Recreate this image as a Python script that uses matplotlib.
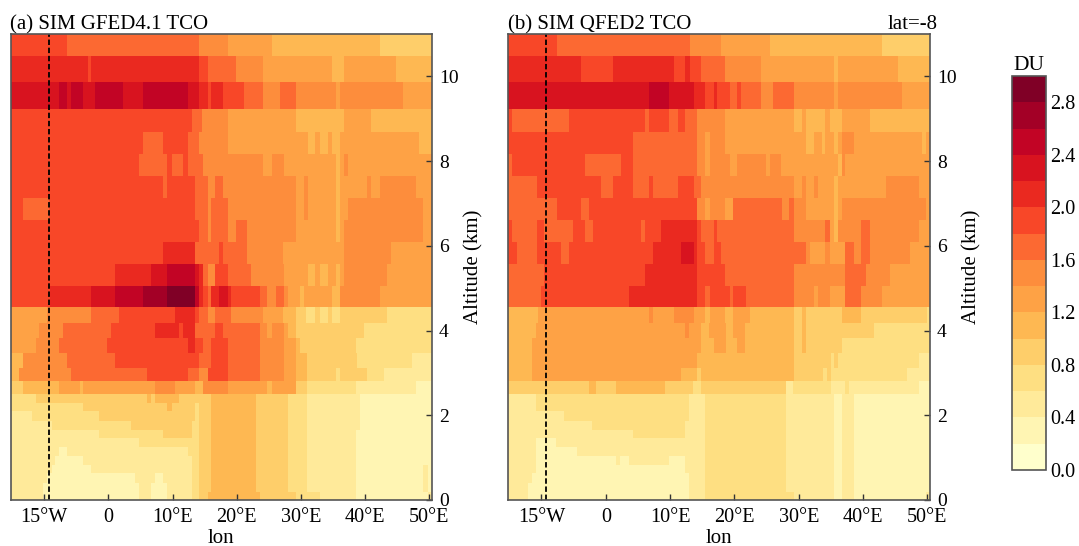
import numpy as np
from matplotlib import pyplot as plt
from matplotlib.colors import BoundaryNorm

plt.rcParams["font.family"] = "Liberation Serif"

# altitude edges of the model layers, km, top to bottom
alt_edges = [11.0, 10.48, 9.87, 9.24, 8.68, 8.16, 7.64, 7.12, 6.6, 6.08, 5.56, 5.04, 4.56, 4.18, 3.82, 3.47,
             3.11, 2.80, 2.51, 2.29, 2.09, 1.87, 1.65, 1.47, 1.25, 1.05, 0.83, 0.64, 0.41, 0.20, 0.0]

# every row: (lon where the run ends, DU in the run), same order as alt_edges
gfed_rows = [
    [(-6.5, 1.9), (14.1, 1.7), (18.5, 1.5), (25.4, 1.3), (42.2, 1.1), (50.4, 0.9)],
    [(-3.3, 2.1), (-2.8, 1.9), (14.1, 2.1), (15.4, 1.9), (19.8, 1.7), (24.1, 1.5), (34.7, 1.3), (36.6, 1.1), (44.7, 1.3), (50.4, 1.1)],
    [(-7.7, 2.3), (-6.5, 2.5), (-5.9, 2.3), (-4.0, 2.5), (-2.1, 2.3), (2.3, 2.5), (5.4, 2.3), (12.3, 2.5), (14.1, 2.3), (15.4, 2.1), (16.0, 1.9), (17.8, 2.1), (21.0, 1.9), (24.1, 1.7), (26.7, 1.5), (29.1, 1.7), (35.4, 1.5), (36.0, 1.3), (45.9, 1.5), (50.4, 1.3)],
    [(12.9, 1.9), (14.6, 1.7), (18.5, 1.5), (29.1, 1.3), (36.6, 1.1), (40.9, 1.3), (50.4, 1.1)],
    [(5.4, 1.9), (8.5, 1.7), (12.3, 1.9), (14.1, 1.7), (18.5, 1.5), (31.0, 1.3), (32.2, 1.1), (32.9, 1.3), (34.2, 1.1), (34.7, 1.3), (36.0, 1.1), (48.4, 1.3), (50.4, 1.1)],
    [(4.7, 1.9), (9.0, 1.7), (9.8, 1.9), (11.6, 1.7), (12.3, 1.9), (14.7, 1.7), (24.1, 1.5), (25.4, 1.3), (27.3, 1.5), (35.4, 1.3), (36.0, 1.1), (36.6, 1.3), (37.2, 1.5), (50.4, 1.3)],
    [(8.5, 1.9), (9.0, 1.7), (13.5, 1.9), (15.4, 1.7), (16.6, 1.5), (17.8, 1.7), (29.1, 1.5), (30.4, 1.3), (31.0, 1.5), (35.4, 1.3), (36.0, 1.1), (40.3, 1.3), (40.9, 1.5), (42.2, 1.3), (47.8, 1.5), (50.4, 1.3)],
    [(-13.3, 1.9), (-9.3, 1.7), (13.5, 1.9), (15.4, 1.7), (16.0, 1.5), (18.5, 1.7), (29.1, 1.5), (30.4, 1.3), (31.0, 1.5), (35.4, 1.3), (36.0, 1.1), (37.2, 1.3), (49.0, 1.5), (50.4, 1.3)],
    [(14.1, 1.9), (15.4, 1.7), (16.0, 1.5), (18.5, 1.7), (19.8, 1.5), (21.6, 1.7), (29.1, 1.5), (35.4, 1.3), (36.0, 1.1), (36.6, 1.3), (49.0, 1.5), (50.4, 1.3)],
    [(8.5, 1.9), (13.5, 2.1), (17.2, 1.7), (17.8, 1.9), (21.6, 1.7), (27.2, 1.5), (36.6, 1.3), (44.0, 1.5), (50.4, 1.3)],
    [(1.0, 1.9), (6.6, 2.1), (9.1, 2.3), (13.5, 2.5), (14.1, 2.3), (14.7, 2.1), (15.4, 1.7), (16.6, 1.5), (18.5, 1.9), (22.2, 1.7), (27.3, 1.5), (31.0, 1.3), (32.2, 1.1), (32.9, 1.3), (34.2, 1.1), (35.4, 1.3), (36.0, 1.1), (36.6, 1.3), (43.4, 1.5), (50.4, 1.3)],
    [(-9.1, 1.9), (-2.8, 2.1), (1.0, 2.3), (5.4, 2.5), (9.1, 2.7), (13.5, 2.9), (14.1, 2.5), (14.7, 2.1), (15.4, 1.9), (16.0, 1.7), (17.2, 2.1), (18.5, 2.3), (19.1, 2.1), (23.5, 1.9), (24.7, 1.7), (26.0, 1.5), (27.3, 1.7), (27.9, 1.5), (29.8, 1.3), (30.4, 1.1), (34.7, 1.3), (36.0, 1.1), (42.2, 1.5), (50.4, 1.3)],
    [(-9.6, 1.3), (-2.8, 1.5), (1.6, 1.7), (10.3, 1.9), (13.4, 2.1), (14.1, 1.9), (15.4, 1.7), (16.6, 1.5), (19.1, 1.7), (24.1, 1.5), (27.2, 1.3), (29.1, 1.1), (30.8, 0.9), (32.2, 0.7), (32.9, 0.9), (34.2, 0.7), (34.7, 0.9), (36.0, 0.7), (43.4, 0.9), (50.4, 0.7)],
    [(-10.9, 1.3), (-7.1, 1.5), (0.4, 1.7), (7.2, 1.9), (11.0, 2.1), (11.6, 1.9), (13.5, 2.1), (16.6, 1.7), (17.8, 1.9), (23.5, 1.7), (24.7, 1.5), (25.4, 1.3), (27.3, 1.5), (27.9, 1.3), (29.1, 1.1), (39.7, 0.9), (50.4, 0.7)],
    [(-11.4, 1.3), (-7.7, 1.5), (-0.2, 1.7), (12.3, 1.9), (13.5, 2.1), (14.7, 1.9), (16.0, 1.7), (18.5, 1.9), (23.5, 1.7), (27.3, 1.5), (29.1, 1.3), (29.8, 1.1), (38.5, 0.9), (50.4, 0.7)],
    [(-13.3, 1.1), (-6.5, 1.5), (1.0, 1.7), (14.1, 1.9), (16.0, 1.7), (18.5, 1.9), (23.5, 1.7), (27.3, 1.5), (29.1, 1.3), (30.9, 1.1), (38.6, 0.9), (47.3, 0.7), (50.4, 0.5)],
    [(-14.0, 1.1), (-5.9, 1.5), (6.0, 1.7), (12.3, 1.9), (14.1, 1.7), (15.4, 1.5), (18.5, 1.9), (23.5, 1.7), (27.3, 1.5), (29.1, 1.3), (30.9, 1.1), (35.4, 0.9), (36.0, 0.7), (40.3, 0.9), (42.8, 0.7), (50.4, 0.5)],
    [(-13.3, 0.9), (-7.7, 1.1), (-4.5, 1.3), (-4.0, 1.1), (7.2, 1.3), (10.3, 1.5), (13.4, 1.3), (14.7, 1.1), (18.5, 1.5), (24.7, 1.3), (25.4, 1.1), (29.1, 1.3), (30.9, 0.9), (38.5, 0.7), (47.8, 0.5), (50.4, 0.3)],
    [(-11.4, 0.7), (6.0, 0.9), (6.6, 1.1), (7.2, 0.9), (11.0, 1.1), (16.0, 0.9), (22.9, 1.1), (27.9, 0.9), (30.9, 0.7), (39.1, 0.5), (50.4, 0.3)],
    [(-4.0, 0.7), (9.1, 0.9), (9.8, 1.1), (13.4, 0.9), (14.1, 0.7), (16.0, 0.9), (22.9, 1.1), (27.9, 0.9), (30.9, 0.7), (39.1, 0.5), (50.4, 0.3)],
    [(-12.0, 0.5), (-1.5, 0.7), (13.4, 0.9), (14.1, 0.7), (16.0, 0.9), (22.9, 1.1), (27.9, 0.9), (30.9, 0.7), (39.1, 0.5), (50.4, 0.3)],
    [(-8.9, 0.5), (3.5, 0.7), (12.9, 0.9), (14.1, 0.7), (16.0, 0.9), (22.9, 1.1), (27.9, 0.9), (30.9, 0.7), (39.1, 0.5), (50.4, 0.3)],
    [(-1.5, 0.5), (8.5, 0.7), (12.9, 0.9), (14.1, 0.7), (16.0, 0.9), (22.9, 1.1), (27.9, 0.9), (30.9, 0.7), (38.5, 0.5), (50.4, 0.3)],
    [(4.7, 0.5), (14.1, 0.7), (16.0, 0.9), (22.9, 1.1), (27.9, 0.9), (30.9, 0.7), (38.5, 0.5), (50.4, 0.3)],
    [(-7.7, 0.5), (-6.5, 0.3), (12.3, 0.5), (14.1, 0.7), (16.0, 0.9), (22.9, 1.1), (27.9, 0.9), (30.9, 0.7), (38.5, 0.5), (50.4, 0.3)],
    [(-8.3, 0.5), (-4.0, 0.3), (12.9, 0.5), (14.1, 0.7), (16.0, 0.9), (22.9, 1.1), (27.9, 0.9), (30.9, 0.7), (38.5, 0.5), (50.4, 0.3)],
    [(-8.9, 0.5), (-2.8, 0.3), (12.9, 0.5), (14.1, 0.7), (16.0, 0.9), (22.9, 1.1), (27.9, 0.9), (30.9, 0.7), (38.5, 0.5), (49.0, 0.3), (49.7, 0.5), (50.4, 0.3)],
    [(-9.6, 0.5), (4.1, 0.3), (7.2, 0.5), (8.5, 0.3), (12.9, 0.5), (14.1, 0.7), (16.0, 0.9), (22.9, 1.1), (27.9, 0.9), (30.9, 0.7), (38.5, 0.5), (49.0, 0.3), (49.7, 0.5), (50.4, 0.3)],
    [(-10.2, 0.5), (4.7, 0.3), (6.6, 0.5), (9.1, 0.3), (12.9, 0.5), (14.1, 0.7), (16.0, 0.9), (22.9, 1.1), (27.9, 0.9), (30.9, 0.7), (38.5, 0.5), (49.0, 0.3), (49.7, 0.5), (50.4, 0.3)],
    [(-10.2, 0.5), (4.7, 0.3), (6.6, 0.5), (9.1, 0.3), (12.9, 0.5), (14.1, 0.7), (15.4, 0.9), (23.5, 1.1), (29.1, 0.9), (32.9, 0.7), (38.5, 0.5), (49.7, 0.3), (50.4, 0.5)],
]

qfed_rows = [
    [(-7.7, 1.9), (13.0, 1.7), (17.9, 1.5), (25.4, 1.3), (42.9, 1.1), (50.4, 0.9)],
    [(-3.9, 2.1), (1.1, 1.9), (10.5, 2.1), (12.3, 1.9), (13.0, 2.1), (14.8, 1.9), (18.5, 1.7), (24.1, 1.5), (35.4, 1.3), (36.0, 1.1), (45.4, 1.3), (50.4, 1.1)],
    [(6.7, 2.3), (9.8, 2.5), (13.6, 2.3), (15.4, 2.1), (16.7, 1.9), (17.3, 2.1), (19.2, 1.9), (20.4, 1.7), (21.0, 1.9), (24.1, 1.7), (26.0, 1.5), (29.2, 1.7), (35.4, 1.5), (36.0, 1.3), (46.0, 1.5), (50.4, 1.3)],
    [(-14.6, 1.9), (-5.8, 1.7), (6.1, 1.9), (6.7, 1.7), (9.8, 1.9), (11.1, 1.7), (12.3, 1.9), (14.2, 1.7), (18.5, 1.5), (29.2, 1.3), (30.4, 1.1), (31.0, 1.3), (34.1, 1.1), (34.8, 1.3), (36.6, 1.1), (41.0, 1.3), (50.4, 1.1)],
    [(4.2, 1.9), (14.1, 1.7), (15.4, 1.5), (16.1, 1.3), (18.5, 1.5), (31.0, 1.3), (32.3, 1.1), (33.5, 1.3), (34.1, 1.1), (35.4, 1.3), (36.0, 1.1), (36.6, 1.3), (38.5, 1.5), (49.1, 1.3), (49.8, 1.1), (50.4, 1.3)],
    [(-14.6, 1.7), (-3.3, 1.9), (2.3, 1.7), (4.2, 1.9), (14.1, 1.7), (15.4, 1.5), (16.1, 1.3), (19.2, 1.5), (20.4, 1.3), (24.8, 1.5), (25.4, 1.3), (27.2, 1.5), (36.0, 1.3), (36.6, 1.1), (37.2, 1.5), (50.4, 1.3)],
    [(-10.8, 1.7), (-0.8, 1.9), (1.1, 1.7), (4.2, 1.9), (6.7, 1.7), (7.3, 1.9), (11.1, 1.7), (13.6, 1.9), (14.8, 1.7), (29.2, 1.5), (30.4, 1.3), (31.0, 1.5), (32.3, 1.3), (32.9, 1.5), (35.4, 1.3), (36.0, 1.1), (43.5, 1.3), (48.6, 1.5), (50.4, 1.3)],
    [(-7.7, 1.7), (-3.9, 1.9), (-2.6, 1.7), (14.1, 1.9), (15.4, 1.5), (16.1, 1.3), (18.5, 1.5), (19.8, 1.3), (27.3, 1.7), (28.5, 1.5), (29.2, 1.7), (31.0, 1.5), (35.4, 1.3), (36.0, 1.1), (36.6, 1.3), (49.8, 1.5), (50.4, 1.3)],
    [(-14.6, 1.9), (-10.8, 1.7), (-9.6, 1.9), (-5.2, 1.7), (-3.3, 1.9), (-2.0, 1.7), (5.4, 1.9), (6.1, 1.7), (8.6, 1.9), (14.2, 2.1), (14.8, 1.9), (16.7, 1.7), (17.3, 1.9), (29.2, 1.7), (34.1, 1.5), (34.8, 1.7), (35.4, 1.3), (36.0, 1.1), (39.7, 1.5), (41.0, 1.7), (48.6, 1.5), (50.4, 1.3)],
    [(-13.9, 1.9), (-10.8, 1.7), (-7.0, 1.9), (-5.8, 1.7), (7.3, 1.9), (11.7, 2.1), (13.6, 2.3), (14.1, 2.1), (15.4, 1.9), (16.7, 1.7), (17.9, 1.9), (31.0, 1.7), (31.7, 1.5), (34.1, 1.3), (34.8, 1.5), (37.2, 1.3), (38.5, 1.7), (39.7, 1.5), (41.0, 1.7), (47.3, 1.5), (50.4, 1.3)],
    [(-9.6, 1.7), (6.1, 1.9), (14.2, 2.1), (18.5, 1.9), (29.2, 1.7), (37.2, 1.5), (40.4, 1.7), (44.2, 1.5), (50.4, 1.3)],
    [(-10.2, 1.7), (3.6, 1.9), (14.1, 2.1), (15.4, 1.9), (16.1, 1.7), (19.2, 1.9), (19.8, 1.7), (21.7, 1.9), (29.2, 1.7), (32.3, 1.5), (32.9, 1.3), (34.8, 1.5), (37.2, 1.3), (39.7, 1.7), (42.9, 1.5), (50.4, 1.3)],
    [(-10.6, 1.1), (6.7, 1.3), (7.3, 1.5), (10.5, 1.3), (13.6, 1.5), (15.4, 1.3), (16.1, 1.1), (18.5, 1.3), (19.8, 1.1), (22.3, 1.3), (29.2, 1.1), (30.4, 0.9), (31.0, 1.1), (36.6, 0.9), (39.7, 1.1), (49.9, 0.9), (50.4, 0.7)],
    [(-10.9, 1.1), (12.2, 1.3), (12.9, 1.5), (14.8, 1.3), (16.0, 1.1), (18.6, 1.3), (19.8, 1.1), (21.6, 1.3), (29.2, 1.1), (30.4, 0.9), (31.0, 1.1), (41.6, 0.9), (50.4, 0.7)],
    [(-11.5, 1.1), (14.7, 1.3), (16.7, 1.1), (18.6, 1.3), (20.4, 1.1), (21.6, 1.3), (29.2, 1.1), (30.4, 0.9), (31.0, 1.1), (36.6, 0.9), (50.4, 0.7)],
    [(-11.5, 1.1), (14.1, 1.3), (29.2, 1.1), (34.9, 0.9), (35.5, 0.7), (36.0, 0.9), (48.6, 0.7), (50.4, 0.5)],
    [(-11.5, 1.1), (11.6, 1.3), (14.1, 1.1), (14.7, 0.9), (29.2, 1.1), (33.7, 0.9), (34.3, 0.7), (34.9, 0.9), (46.7, 0.7), (50.4, 0.5)],
    [(-2.7, 0.9), (-1.6, 1.1), (1.6, 0.9), (9.1, 1.1), (13.5, 0.9), (14.7, 0.7), (27.9, 0.9), (29.0, 0.5), (34.9, 0.7), (37.2, 0.5), (37.8, 0.7), (48.6, 0.5), (50.4, 0.3)],
    [(-10.9, 0.5), (12.9, 0.7), (15.4, 0.5), (27.9, 0.7), (35.4, 0.5), (36.6, 0.3), (38.5, 0.5), (50.4, 0.3)],
    [(-10.9, 0.5), (12.9, 0.7), (15.4, 0.5), (27.9, 0.7), (35.4, 0.5), (36.6, 0.3), (38.5, 0.5), (50.4, 0.3)],
    [(-6.5, 0.5), (12.9, 0.7), (15.4, 0.5), (27.9, 0.7), (35.4, 0.5), (36.6, 0.3), (38.5, 0.5), (50.4, 0.3)],
    [(-2.2, 0.5), (12.3, 0.7), (15.4, 0.5), (27.9, 0.7), (35.4, 0.5), (36.6, 0.3), (38.5, 0.5), (50.4, 0.3)],
    [(4.2, 0.5), (12.3, 0.7), (15.4, 0.5), (27.9, 0.7), (35.4, 0.5), (36.6, 0.3), (38.5, 0.5), (50.4, 0.3)],
    [(-10.9, 0.5), (-7.8, 0.3), (15.4, 0.5), (27.9, 0.7), (35.4, 0.5), (36.6, 0.3), (38.5, 0.5), (50.4, 0.3)],
    [(-10.9, 0.5), (-4.5, 0.3), (15.4, 0.5), (27.9, 0.7), (35.4, 0.5), (36.6, 0.3), (38.5, 0.5), (50.4, 0.3)],
    [(-10.9, 0.5), (1.6, 0.3), (2.2, 0.5), (3.6, 0.3), (9.8, 0.5), (12.3, 0.3), (15.4, 0.5), (27.9, 0.7), (35.4, 0.5), (36.6, 0.3), (38.5, 0.5), (50.4, 0.3)],
    [(-10.9, 0.5), (12.3, 0.3), (15.4, 0.5), (27.9, 0.7), (35.4, 0.5), (36.6, 0.3), (38.5, 0.5), (50.4, 0.3)],
    [(-11.5, 0.5), (12.9, 0.3), (15.4, 0.5), (27.9, 0.7), (35.4, 0.5), (36.6, 0.3), (38.5, 0.5), (50.4, 0.3)],
    [(-12.2, 0.5), (12.9, 0.3), (15.4, 0.5), (27.9, 0.7), (35.4, 0.5), (36.6, 0.3), (38.5, 0.5), (50.4, 0.3)],
    [(-12.2, 0.5), (12.9, 0.3), (15.4, 0.5), (29.2, 0.7), (35.4, 0.5), (36.6, 0.3), (38.5, 0.5), (49.8, 0.3), (50.4, 0.5)],
]

lon_ticks = [-10, 0, 10, 20, 30, 40, 50]
lon_labels = ["15°W", "0", "10°E", "20°E", "30°E", "40°E", "50°E"]
alt_ticks = [0, 2, 4, 6, 8, 10]
cbar_ticks = [0.0, 0.4, 0.8, 1.2, 1.6, 2.0, 2.4, 2.8]
du_levels = np.arange(0, 3.01, 0.2)
marked_lon = -9.3


def rows_to_grid(rows, lon_edges):
    centers = 0.5 * (lon_edges[:-1] + lon_edges[1:])
    grid = np.zeros((len(rows), len(centers)))
    for i, row in enumerate(rows):
        ends = [r[0] for r in row]
        vals = np.array([r[1] for r in row])
        grid[i] = vals[np.minimum(np.searchsorted(ends, centers), len(vals) - 1)]
    return grid


W, H = 1079, 546
fig = plt.figure(figsize=(W / 100, H / 100), dpi=100)
cmap = plt.get_cmap("YlOrRd", 15)
norm = BoundaryNorm(du_levels, 15)
lon_edges = np.arange(-15.25, 50.46, 0.1)
edge_col = "#555555"


def panel(x0, x1, rows, title):
    ax = fig.add_axes([x0 / W, 1 - 500 / H, (x1 - x0) / W, 466 / H])
    m = ax.pcolormesh(lon_edges, alt_edges, rows_to_grid(rows, lon_edges), cmap=cmap, norm=norm,
                      shading="flat", antialiased=False)
    ax.axvline(marked_lon, color="k", ls="--", lw=1.3, dashes=(3, 1.5))
    ax.set_xlim(-15.25, 50.4)
    ax.set_ylim(0, 11)
    ax.set_xticks(lon_ticks)
    ax.set_xticklabels(lon_labels)
    ax.set_yticks(alt_ticks)
    ax.yaxis.tick_right()
    ax.yaxis.set_label_position("right")
    ax.tick_params(axis="y", direction="in", length=4.5, width=1, color="#333333", labelsize=14, pad=5)
    ax.tick_params(axis="x", direction="in", length=4.5, width=1, color="#333333", labelsize=14.5, pad=6)
    ax.set_xlabel("lon", fontsize=15, labelpad=1)
    ax.set_ylabel("Altitude (km)", fontsize=15, labelpad=4)
    ax.set_title(title, loc="left", fontsize=15, pad=3)
    for s in ax.spines.values():
        s.set_color(edge_col)
        s.set_linewidth(1.2)
    return ax, m


ax_a, mesh = panel(10.5, 432, gfed_rows, "(a) SIM GFED4.1 TCO")
ax_b, mesh = panel(507.7, 930, qfed_rows, "(b) SIM QFED2 TCO")
ax_b.set_title("lat=-8", loc="right", x=1.019, fontsize=15, pad=3)

cax = fig.add_axes([1011.7 / W, 1 - 470 / H, 34 / W, 394 / H])
cb = fig.colorbar(mesh, cax=cax, ticks=cbar_ticks, spacing="proportional", format="%.1f")
cb.ax.minorticks_off()
cb.ax.tick_params(which="both", length=0, labelsize=14.5, pad=3)
cb.outline.set_edgecolor(edge_col)
cb.outline.set_linewidth(1.2)
cax.set_title("DU", fontsize=15.5, pad=4)

plt.savefig("out.png", dpi=100)
